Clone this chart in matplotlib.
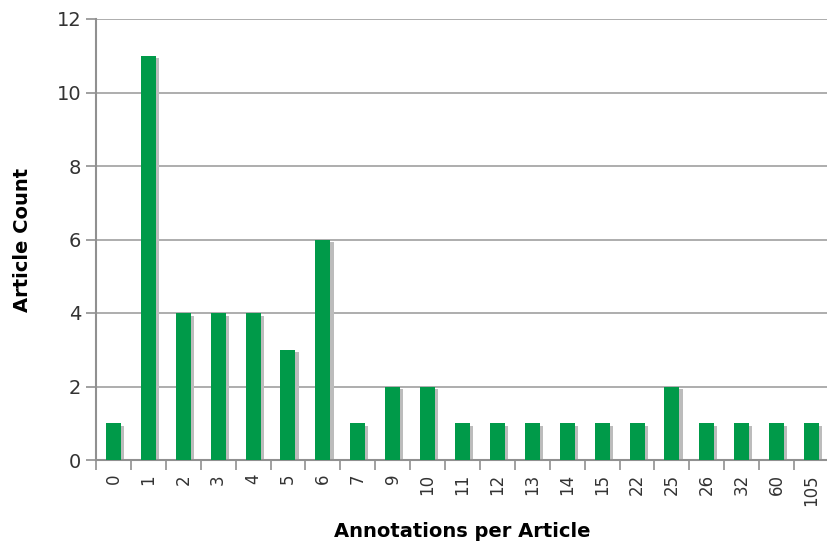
import matplotlib
matplotlib.use("Agg")
import matplotlib.pyplot as plt
import numpy as np

# Daten
categories = ["0", "1", "2", "3", "4", "5", "6", "7", "9", "10", "11", "12",
              "13", "14", "15", "22", "25", "26", "32", "60", "105"]
counts = [1, 11, 4, 4, 4, 3, 6, 1, 2, 2, 1, 1, 1, 1, 1, 1, 2, 1, 1, 1, 1]

fig = plt.figure(figsize=(8.27, 5.48), dpi=100)
ax = fig.add_axes([96 / 827, 88 / 548, 733 / 827, 441 / 548])

x = np.arange(len(categories))
bar_w = 0.43
# Schatten hinter den Balken
ax.bar(x + 0.09, counts, width=bar_w, bottom=-0.07, color="#bcbcbc", zorder=2)
ax.bar(x, counts, width=bar_w, color="#009a49", zorder=3)

ax.set_xlim(-0.5, len(categories) - 0.5)
ax.set_ylim(0, 12)
ax.set_yticks(range(0, 13, 2))
ax.yaxis.grid(True, color="#a0a0a0", linewidth=1.2, zorder=0)
ax.set_axisbelow(True)

ax.set_xticks(x)
ax.set_xticklabels(categories, rotation=90, fontsize=12, color="#333333")
ax.set_xticks(np.arange(-0.5, len(categories), 1), minor=True)
ax.tick_params(axis="x", which="major", length=0, pad=10)
ax.tick_params(axis="x", which="minor", length=7, color="#909090", width=1.2)
ax.tick_params(axis="y", labelsize=14, colors="#333333", length=7, width=1.2)
ax.tick_params(axis="y", color="#909090")

for s in ["top", "right"]:
    ax.spines[s].set_visible(False)
for s in ["left", "bottom"]:
    ax.spines[s].set_color("#909090")
    ax.spines[s].set_linewidth(1.5)

ax.set_xlabel("Annotations per Article", fontsize=14, fontweight="bold", labelpad=12)
ax.set_ylabel("Article Count", fontsize=14, fontweight="bold", labelpad=18)

plt.savefig("out.png", dpi=100)
